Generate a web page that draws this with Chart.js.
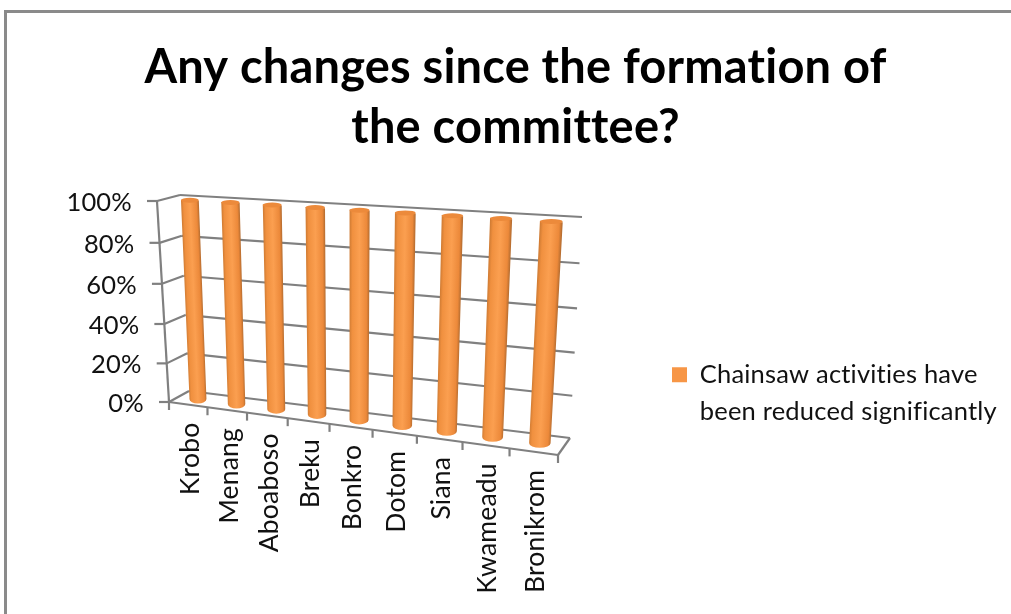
<!DOCTYPE html>
<html>
<head>
<meta charset="utf-8">
<title>Any changes since the formation of the committee?</title>
<script src="https://cdn.jsdelivr.net/npm/chart.js@4/dist/chart.umd.js"></script>
<style>
  html, body { margin: 0; background: #fff; }
  #frame { position: absolute; left: 4px; top: 10px; width: 1007px; height: 604px;
           border-left: 3px solid #8a8a8a; border-top: 3px solid #8a8a8a; box-sizing: border-box; }
  canvas { position: absolute; left: 0; top: 0; }
</style>
</head>
<body>
<div id="frame"></div>
<canvas id="chart" width="1011" height="614"></canvas>
<script>
const villages = ['Krobo', 'Menang', 'Aboaboso', 'Breku', 'Bonkro', 'Dotom', 'Siana', 'Kwameadu', 'Bronikrom'];
const reducedShare = [100, 100, 100, 100, 100, 100, 100, 100, 100];
const seriesLines = ['Chainsaw activities have', 'been reduced significantly'];
const titleLines = ['Any changes since the formation of', 'the committee?'];

const FONT = 'Lato, Carlito, Calibri, sans-serif';
const GRID = '#808080';

// unit square -> quadrilateral (Heckbert), corners given as (0,0) (1,0) (1,1) (0,1)
function quadMap(p0, p1, p2, p3) {
  const dx1 = p1[0] - p2[0], dx2 = p3[0] - p2[0], sx = p0[0] - p1[0] + p2[0] - p3[0];
  const dy1 = p1[1] - p2[1], dy2 = p3[1] - p2[1], sy = p0[1] - p1[1] + p2[1] - p3[1];
  const det = dx1 * dy2 - dx2 * dy1;
  const g = (sx * dy2 - dx2 * sy) / det;
  const h = (dx1 * sy - sx * dy1) / det;
  const a = p1[0] - p0[0] + g * p1[0], b = p3[0] - p0[0] + h * p3[0];
  const d = p1[1] - p0[1] + g * p1[1], e = p3[1] - p0[1] + h * p3[1];
  return (u, v) => {
    const w = g * u + h * v + 1;
    return [(a * u + b * v + p0[0]) / w, (d * u + e * v + p0[1]) / w];
  };
}

// the 3-d box the scales get projected onto
const backWall = quadMap([189, 391], [570, 438], [582, 217], [180, 195]);
const midPlane = quadMap([179, 396.5], [564, 446.5], [577, 223], [170, 199]);
const FRONT_LEFT = [169, 402], FRONT_RIGHT = [558, 455], FRONT_TOP = [157, 201];

// front floor edge, spaced with the same foreshortening as the plane the bars stand in
function frontEdge(u) {
  const x0 = midPlane(0, 0)[0], x1 = midPlane(1, 0)[0];
  const t = (midPlane(u, 0)[0] - x0) / (x1 - x0);
  return [FRONT_LEFT[0] + (FRONT_RIGHT[0] - FRONT_LEFT[0]) * t,
          FRONT_LEFT[1] + (FRONT_RIGHT[1] - FRONT_LEFT[1]) * t];
}

// value axis at the front of the side wall, spaced like the back wall
function frontAxis(v) {
  const y0 = backWall(0, 0)[1], y1 = backWall(0, 1)[1];
  const t = (backWall(0, v)[1] - y0) / (y1 - y0);
  return [FRONT_LEFT[0] + (FRONT_TOP[0] - FRONT_LEFT[0]) * t,
          FRONT_LEFT[1] + (FRONT_TOP[1] - FRONT_LEFT[1]) * t];
}

function line(ctx, a, b) {
  ctx.beginPath();
  ctx.moveTo(a[0], a[1]);
  ctx.lineTo(b[0], b[1]);
  ctx.stroke();
}

const box3d = {
  id: 'box3d',
  afterLayout(chart) {
    // legend sits low on the right, level with the bottom of the plot
    const legend = chart.legend;
    legend.left = 662;
    legend.right = 1011;
    legend.top = 352;
    legend.bottom = 450;
  },
  beforeDraw(chart) {
    // tiny tracking keeps Lato from joining "ti" into a ligature
    chart.ctx.letterSpacing = '0.2px';
  },
  beforeDatasetDraw(chart, args) {
    const { ctx, chartArea: area, scales } = chart;
    const fracX = px => (px - area.left) / area.width;
    const fracY = px => (area.bottom - px) / area.height;

    ctx.save();
    ctx.strokeStyle = GRID;
    ctx.lineWidth = 2.2;

    // walls and value ticks
    scales.y.ticks.forEach(tick => {
      const v = fracY(scales.y.getPixelForValue(tick.value));
      const front = frontAxis(v);
      line(ctx, front, backWall(0, v));
      line(ctx, backWall(0, v), backWall(1, v));
      line(ctx, [front[0] - 10, front[1]], front);

      ctx.fillStyle = '#111';
      ctx.font = '25.5px ' + FONT;
      ctx.textAlign = 'right';
      ctx.textBaseline = 'middle';
      ctx.fillText(tick.label, front[0] - 25, front[1] + 1.5);
    });
    line(ctx, FRONT_LEFT, FRONT_TOP);

    // floor outline
    line(ctx, FRONT_LEFT, FRONT_RIGHT);
    line(ctx, FRONT_RIGHT, backWall(1, 0));

    // category ticks on the category boundaries, labels read upwards
    const step = area.width / villages.length;
    for (let i = 0; i <= villages.length; i++) {
      const p = frontEdge(fracX(area.left + i * step));
      line(ctx, p, [p[0], p[1] + 8]);
    }
    villages.forEach((name, i) => {
      const p = frontEdge(fracX(scales.x.getPixelForTick(i)));
      ctx.save();
      ctx.translate(p[0] + 2, p[1] + 18);
      ctx.rotate(-Math.PI / 2);
      ctx.fillStyle = '#111';
      ctx.font = '26.5px ' + FONT;
      ctx.textAlign = 'right';
      ctx.textBaseline = 'middle';
      ctx.fillText(name, 0, 0);
      ctx.restore();
    });

    // cylinders
    chart.getDatasetMeta(args.index).data.forEach(bar => {
      const { x, y, base, width } = bar.getProps(['x', 'y', 'base', 'width']);
      const vTop = fracY(y), vBase = fracY(base);
      const tl = midPlane(fracX(x - width / 2), vTop);
      const tr = midPlane(fracX(x + width / 2), vTop);
      const bl = midPlane(fracX(x - width / 2), vBase);
      const br = midPlane(fracX(x + width / 2), vBase);
      const bottom = [(bl[0] + br[0]) / 2, (bl[1] + br[1]) / 2];
      const top = [(tl[0] + tr[0]) / 2, (tl[1] + tr[1]) / 2];
      const rx = (br[0] - bl[0]) / 2;

      // shading runs across the leaning axis so it stays on the bar from bottom to top
      const axisX = top[0] - bottom[0], axisY = top[1] - bottom[1];
      const len = Math.hypot(axisX, axisY);
      const nx = -axisY / len * rx * 1.04, ny = axisX / len * rx * 1.04;
      const grad = ctx.createLinearGradient(bottom[0] - nx, bottom[1] - ny, bottom[0] + nx, bottom[1] + ny);
      grad.addColorStop(0, '#cf7b33');
      grad.addColorStop(0.14, '#f0903f');
      grad.addColorStop(0.5, '#fb9f50');
      grad.addColorStop(0.86, '#ec893a');
      grad.addColorStop(1, '#b46c30');

      ctx.fillStyle = grad;
      ctx.beginPath();
      ctx.moveTo(tl[0], tl[1]);
      ctx.lineTo(bl[0], bl[1]);
      ctx.ellipse(bottom[0], bottom[1], rx, 4.5, 0, Math.PI, 0, true);
      ctx.lineTo(tr[0], tr[1]);
      ctx.closePath();
      ctx.fill();

      ctx.fillStyle = '#ec8a3b';
      ctx.beginPath();
      ctx.ellipse(top[0], top[1], (tr[0] - tl[0]) / 2, 2.5, 0, 0, Math.PI * 2);
      ctx.fill();
    });
    ctx.restore();
    return false;
  }
};

new Chart(document.getElementById('chart'), {
  type: 'bar',
  data: {
    labels: villages,
    datasets: [{
      label: seriesLines.join(' '),
      data: reducedShare,
      backgroundColor: '#f79646',
      barPercentage: 0.72,
      categoryPercentage: 0.62
    }]
  },
  options: {
    responsive: false,
    animation: false,
    layout: { padding: { left: 20, bottom: 212 } },
    scales: {
      x: { grid: { display: false }, border: { display: false }, ticks: { display: false } },
      y: {
        min: 0,
        max: 100,
        grid: { display: false },
        border: { display: false },
        ticks: { display: false, stepSize: 20, callback: v => v + '%' },
        afterFit(scale) { scale.width = 150; }
      }
    },
    plugins: {
      tooltip: { enabled: false },
      title: {
        display: true,
        text: titleLines,
        color: '#000',
        font: { family: FONT, size: 47, weight: 'bold', lineHeight: 1.28 },
        padding: { top: 38, bottom: 22 }
      },
      legend: {
        position: 'right',
        align: 'start',
        labels: {
          color: '#111',
          boxWidth: 15,
          boxHeight: 15,
          font: { family: FONT, size: 25.5, lineHeight: 1.45 },
          generateLabels(chart) {
            const items = Chart.defaults.plugins.legend.labels.generateLabels(chart);
            items[0].text = seriesLines;
            items[0].lineWidth = 0;
            return items;
          }
        }
      }
    }
  },
  plugins: [box3d]
});
</script>
</body>
</html>
